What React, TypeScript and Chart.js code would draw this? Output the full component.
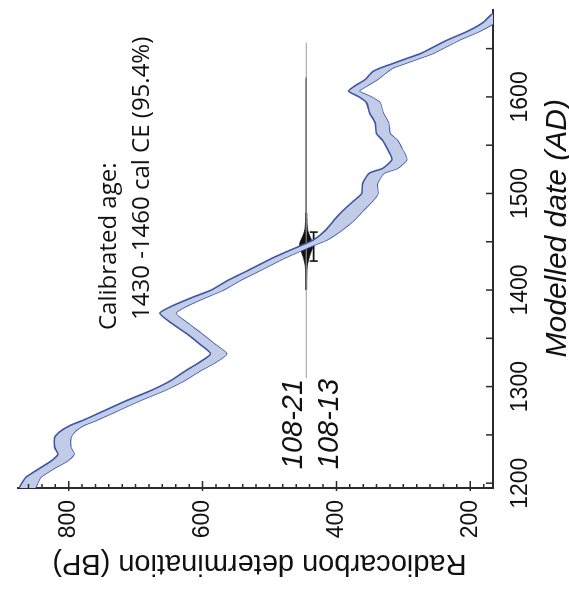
import React, { useEffect, useRef } from 'react';
import { Chart, registerables } from 'chart.js';

Chart.register(...registerables);

// Unrotated canvas size (the figure is shown rotated 90° counter-clockwise)
const W = 593;
const H = 569;

// Calibration curve (IntCal-style band): date AD, radiocarbon age BP, 1-sigma
const curveDates = [1195, 1199, 1206, 1216, 1223, 1230, 1237, 1247, 1254, 1260, 1265, 1275, 1286, 1296, 1306, 1317, 1325, 1334, 1344, 1355, 1365, 1376, 1384, 1393, 1400, 1410, 1420, 1433, 1441, 1446, 1452, 1462, 1472, 1483, 1493, 1500, 1510, 1521, 1526, 1535, 1545, 1555, 1562, 1573, 1583, 1594, 1600, 1606, 1612, 1618, 1626, 1630, 1635, 1640, 1645, 1652, 1659, 1668, 1677, 1685, 1690];
const curveBP = [862, 859, 853, 831, 814, 804, 809, 809, 801, 787, 769, 737, 702, 667, 638, 613, 593, 576, 593, 613, 633, 652, 633, 603, 578, 553, 524, 487, 461, 444, 424, 404, 389, 374, 359, 350, 350, 340, 320, 306, 312, 320, 330, 332, 340, 345, 357, 374, 362, 348, 335, 325, 305, 285, 265, 245, 225, 195, 172, 160, 150];
const curveSigma = [12, 12, 11, 11, 12, 12, 12, 12, 11, 10, 10, 10, 10, 10, 10, 11, 12, 12, 11, 11, 12, 12, 11, 10, 9, 9, 9, 9, 9, 9, 10, 12, 15, 15, 14, 12, 11, 11, 11, 11, 11, 11, 10, 10, 10, 10, 9, 8, 9, 9, 11, 9, 9, 9, 9, 9, 9, 9, 9, 9, 9];

// Combined determination 108-21 / 108-13
const sampleBP = 445;
const sampleLineDates = [1309, 1656];
const sampleCoreDates = [1400, 1620];
const distDates = [1400, 1415, 1425, 1430, 1435, 1440, 1444, 1447, 1450, 1454, 1458, 1463, 1470, 1480];
const distHalfWidth = [0.6, 0.8, 1.5, 3, 5, 7.5, 9.5, 10, 9, 6.5, 4, 2, 1.2, 0.8];
const rangeDates = [1430, 1460];
const rangeBP = 434;
const sampleNames = ['108-21', '108-13'];
const calLines = ['Calibrated age:', '1430 -1460 cal CE (95.4%)'];

// Axes
const dateMin = 1195;
const dateMax = 1690;
const bpMin = 166;
const bpMax = 876;
const dateTickLabels = [1200, 1300, 1400, 1500, 1600];
const dateMinorStep = 50;
const bpTickLabels = [200, 400, 600, 800];
const bpMinorStep = 20;
const xTitle = 'Modelled date (AD)';
const yTitle = 'Radiocarbon determination (BP)';

const BLUE = '#3C56A6';
const FILL = '#C3CCE6';
const AXIS = '#2b2b2b';

const decorPlugin = {
  id: 'decor',
  afterDraw(chart: any) {
    const { ctx, chartArea } = chart;
    const xs = chart.scales.x;
    const ys = chart.scales.y;
    ctx.save();
    // inward tick marks
    ctx.strokeStyle = AXIS;
    ctx.lineWidth = 1.5;
    ctx.beginPath();
    for (let v = dateTickLabels[0]; v <= dateMax; v += dateMinorStep) {
      const px = xs.getPixelForValue(v);
      ctx.moveTo(px, chartArea.bottom);
      ctx.lineTo(px, chartArea.bottom - 7);
    }
    for (let v = Math.ceil(bpMin / bpMinorStep) * bpMinorStep; v <= bpMax; v += bpMinorStep) {
      const py = ys.getPixelForValue(v);
      if (bpTickLabels.includes(v)) {
        ctx.moveTo(chartArea.left - 3, py);
        ctx.lineTo(chartArea.left + 7, py);
      } else {
        ctx.moveTo(chartArea.left, py);
        ctx.lineTo(chartArea.left + 4, py);
      }
    }
    ctx.stroke();

    ctx.fillStyle = '#111';
    // y title (rotated)
    ctx.save();
    ctx.font = '29px "Liberation Sans", Arial, sans-serif';
    ctx.translate(chartArea.left - 67, ys.getPixelForValue(515));
    ctx.rotate(-Math.PI / 2);
    ctx.textAlign = 'center';
    ctx.textBaseline = 'alphabetic';
    ctx.fillText(yTitle, 0, 0);
    ctx.restore();

    // x title
    ctx.font = 'italic 30px "Liberation Sans", Arial, sans-serif';
    ctx.textAlign = 'center';
    ctx.textBaseline = 'alphabetic';
    ctx.fillText(xTitle, xs.getPixelForValue(1464), chartArea.bottom + 73);

    // calibrated age annotation
    ctx.font = '24px "Open Sans", sans-serif';
    ctx.textAlign = 'left';
    ctx.fillText(calLines[0], xs.getPixelForValue(1358.6), ys.getPixelForValue(730));
    ctx.fillText(calLines[1], xs.getPixelForValue(1369), ys.getPixelForValue(680));

    // sample labels
    ctx.font = 'italic 29px "Liberation Sans", Arial, sans-serif';
    ctx.textAlign = 'right';
    const lx = xs.getPixelForValue(sampleLineDates[0]) - 1;
    const ly = ys.getPixelForValue(sampleBP);
    ctx.fillText(sampleNames[0], lx, ly - 4);
    ctx.fillText(sampleNames[1], lx, ly + 32);
    ctx.restore();
  },
};

export default function App() {
  const ref = useRef<HTMLCanvasElement>(null);
  useEffect(() => {
    document.body.style.margin = '0';
    const upper = curveDates.map((d, i) => ({ x: d, y: curveBP[i] + curveSigma[i] }));
    const lower = curveDates.map((d, i) => ({ x: d, y: curveBP[i] - curveSigma[i] }));
    const distUp = distDates.map((d, i) => ({ x: d, y: sampleBP + distHalfWidth[i] }));
    const distLo = distDates.map((d, i) => ({ x: d, y: sampleBP - distHalfWidth[i] }));
    const chart = new Chart(ref.current as HTMLCanvasElement, {
      type: 'line',
      data: {
        datasets: [
          { data: upper, borderColor: BLUE, borderWidth: 1.6, backgroundColor: FILL, fill: '+1', pointRadius: 0, tension: 0.2 },
          { data: lower, borderColor: BLUE, borderWidth: 1.6, fill: false, pointRadius: 0, tension: 0.2 },
          { data: sampleLineDates.map((d) => ({ x: d, y: sampleBP })), borderColor: '#9a9a9a', borderWidth: 1, pointRadius: 0, fill: false },
          { data: sampleCoreDates.map((d) => ({ x: d, y: sampleBP })), borderColor: '#222', borderWidth: 1.3, pointRadius: 0, fill: false },
          { data: distUp, borderColor: '#111', borderWidth: 0.8, backgroundColor: '#111', fill: '+1', pointRadius: 0, tension: 0.3 },
          { data: distLo, borderColor: '#111', borderWidth: 0.8, fill: false, pointRadius: 0, tension: 0.3 },
          {
            data: rangeDates.map((d) => ({ x: d, y: rangeBP })),
            borderColor: '#111', borderWidth: 1.6, fill: false,
            pointStyle: 'line', pointRadius: 4, pointRotation: 90,
            pointBorderColor: '#111', pointBorderWidth: 1.6,
          },
        ],
      },
      options: {
        responsive: false,
        animation: false,
        devicePixelRatio: 1,
        layout: { padding: { left: 0, right: 10, top: 17, bottom: 0 } },
        plugins: { legend: { display: false }, tooltip: { enabled: false } },
        scales: {
          x: {
            type: 'linear',
            min: dateMin,
            max: dateMax,
            grid: { display: false },
            border: { display: true, color: AXIS, width: 2 },
            afterBuildTicks: (s: any) => { s.ticks = dateTickLabels.map((v) => ({ value: v })); },
            afterFit: (s: any) => { s.height = 76; },
            ticks: {
              autoSkip: false, maxRotation: 0, padding: 6, color: '#111',
              font: { family: '"Liberation Sans", Arial, sans-serif', size: 23 },
              callback: (v: any) => String(v),
            },
          },
          y: {
            type: 'linear',
            min: bpMin,
            max: bpMax,
            grid: { display: false },
            border: { display: true, color: AXIS, width: 2 },
            afterBuildTicks: (s: any) => { s.ticks = bpTickLabels.map((v) => ({ value: v })); },
            afterFit: (s: any) => { s.width = 105; },
            ticks: {
              autoSkip: false, padding: 4, color: '#111',
              font: { family: '"Liberation Sans", Arial, sans-serif', size: 23 },
              callback: (v: any) => String(v),
            },
          },
        },
      },
      plugins: [decorPlugin],
    } as any);
    return () => chart.destroy();
  }, []);
  return (
    <div style={{ position: 'relative', width: 569, height: 593, overflow: 'hidden', background: '#fff' }}>
      <div
        style={{
          position: 'absolute', left: 0, top: 0, width: W, height: H,
          transformOrigin: '0 0', transform: `translate(0px, ${W}px) rotate(-90deg)`,
        }}
      >
        <canvas ref={ref} width={W} height={H} style={{ display: 'block', width: W, height: H }} />
      </div>
    </div>
  );
}
